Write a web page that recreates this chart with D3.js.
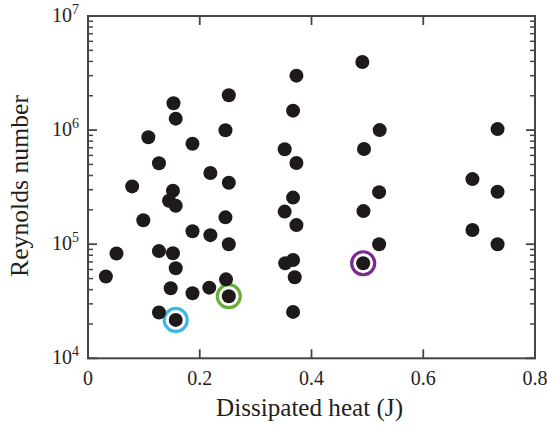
<!DOCTYPE html>
<html><head><meta charset="utf-8">
<script src="https://cdn.jsdelivr.net/npm/d3@7"></script>
<style>html,body{margin:0;padding:0;background:#fff}svg{display:block}</style>
</head><body>
<script>
// Data: dissipated heat (J) and Reynolds number
const heat = [0.373,0.252,0.153,0.157,0.367,0.246,0.108,0.187,0.352,0.373,0.127,0.219,0.252,0.079,0.152,0.145,0.157,0.367,0.352,0.099,0.246,0.373,0.187,0.219,0.252,0.051,0.127,0.152,0.353,0.367,0.370,0.032,0.157,0.247,0.148,0.187,0.217,0.127,0.367,0.491,0.522,0.733,0.494,0.688,0.521,0.733,0.493,0.688,0.521,0.733];
const reynolds = [3.0e6,2.02e6,1.72e6,1.26e6,1.48e6,9.96e5,8.65e5,7.6e5,6.8e5,5.15e5,5.12e5,4.21e5,3.46e5,3.21e5,2.94e5,2.40e5,2.17e5,2.56e5,1.93e5,1.62e5,1.72e5,1.47e5,1.30e5,1.20e5,9.98e4,8.28e4,8.7e4,8.32e4,6.81e4,7.28e4,5.13e4,5.21e4,6.15e4,4.92e4,4.11e4,3.72e4,4.16e4,2.52e4,2.55e4,3.95e6,1.0e6,1.02e6,6.82e5,3.72e5,2.86e5,2.88e5,1.95e5,1.33e5,9.98e4,1.0e5];
// Highlighted points
const hlHeat = [0.157,0.252,0.4925];
const hlRe = [2.17e4,3.5e4,6.81e4];
const hlColor = ["#3fb6ea","#6aad3d","#7d2a90"];
const xTicks = [0,0.2,0.4,0.6,0.8];
const xTickLabels = ["0","0.2","0.4","0.6","0.8"];
const yTicks = [1e4,1e5,1e6,1e7];
const yTickExp = ["4","5","6","7"];

const W=547,H=427;
const L=88,R=535,T=16,B=358.3;
const svg=d3.select("body").append("svg").attr("width",W).attr("height",H);
const x=d3.scaleLinear().domain([0,0.8]).range([L,R]);
const y=d3.scaleLog().domain([1e4,1e7]).range([B,T]);
const axCol="#454545";
const txtCol="#231f20";
const font="'Liberation Serif','Times New Roman',serif";

// minor ticks
const minor=[];
for(let d=1e4; d<1e7; d*=10){ for(let k=2;k<=9;k++) minor.push(d*k); }
const g=svg.append("g");
g.selectAll("line.minl").data(minor).join("line")
 .attr("x1",L).attr("x2",L+5).attr("y1",d=>y(d)).attr("y2",d=>y(d))
 .attr("stroke",axCol).attr("stroke-width",1.5);
g.selectAll("line.minr").data(minor).join("line")
 .attr("x1",R).attr("x2",R-5).attr("y1",d=>y(d)).attr("y2",d=>y(d))
 .attr("stroke",axCol).attr("stroke-width",1.5);
g.selectAll("line.majl").data(yTicks).join("line")
 .attr("x1",L).attr("x2",L+9).attr("y1",d=>y(d)).attr("y2",d=>y(d))
 .attr("stroke",axCol).attr("stroke-width",1.8);
g.selectAll("line.majr").data(yTicks).join("line")
 .attr("x1",R).attr("x2",R-9).attr("y1",d=>y(d)).attr("y2",d=>y(d))
 .attr("stroke",axCol).attr("stroke-width",1.8);
g.selectAll("line.xb").data(xTicks).join("line")
 .attr("x1",d=>x(d)).attr("x2",d=>x(d)).attr("y1",B).attr("y2",B-9)
 .attr("stroke",axCol).attr("stroke-width",1.8);
g.selectAll("line.xt").data(xTicks).join("line")
 .attr("x1",d=>x(d)).attr("x2",d=>x(d)).attr("y1",T).attr("y2",T+9)
 .attr("stroke",axCol).attr("stroke-width",1.8);
g.append("rect").attr("x",L).attr("y",T).attr("width",R-L).attr("height",B-T)
 .attr("fill","none").attr("stroke",axCol).attr("stroke-width",2);

// tick labels
svg.selectAll("text.xl").data(xTicks).join("text")
 .attr("x",d=>x(d)).attr("y",B+27).attr("text-anchor","middle")
 .attr("font-family",font).attr("font-size",20).attr("fill",txtCol)
 .text((d,i)=>xTickLabels[i]);
const yl=svg.selectAll("text.yl").data(yTicks).join("text")
 .attr("x",52).attr("y",d=>y(d)+6).attr("text-anchor","start")
 .attr("font-family",font).attr("font-size",20).attr("fill",txtCol);
yl.append("tspan").text("10");
yl.append("tspan").attr("font-size",14).attr("dy",-8).text((d,i)=>yTickExp[i]);

// axis titles
svg.append("text").attr("x",(L+R)/2-2).attr("y",416).attr("text-anchor","middle")
 .attr("font-family",font).attr("font-size",24.5).attr("fill",txtCol)
 .attr("textLength",187).attr("lengthAdjust","spacingAndGlyphs").text("Dissipated heat (J)");
svg.append("text").attr("transform",`translate(28,186) rotate(-90)`).attr("text-anchor","middle")
 .attr("font-family",font).attr("font-size",25).attr("fill",txtCol)
 .attr("textLength",182).attr("lengthAdjust","spacingAndGlyphs").text("Reynolds number");

// highlight rings
svg.selectAll("circle.hl").data(hlHeat).join("circle")
 .attr("cx",d=>x(d)).attr("cy",(d,i)=>y(hlRe[i])).attr("r",11.5)
 .attr("fill","#fff").attr("stroke",(d,i)=>hlColor[i]).attr("stroke-width",3.2);

// points
const pts=heat.map((h,i)=>({h,r:reynolds[i]})).concat(hlHeat.map((h,i)=>({h,r:hlRe[i]})));
svg.selectAll("circle.pt").data(pts).join("circle")
 .attr("cx",d=>x(d.h)).attr("cy",d=>y(d.r)).attr("r",7).attr("fill","#1f1a1a");
</script>
</body></html>
